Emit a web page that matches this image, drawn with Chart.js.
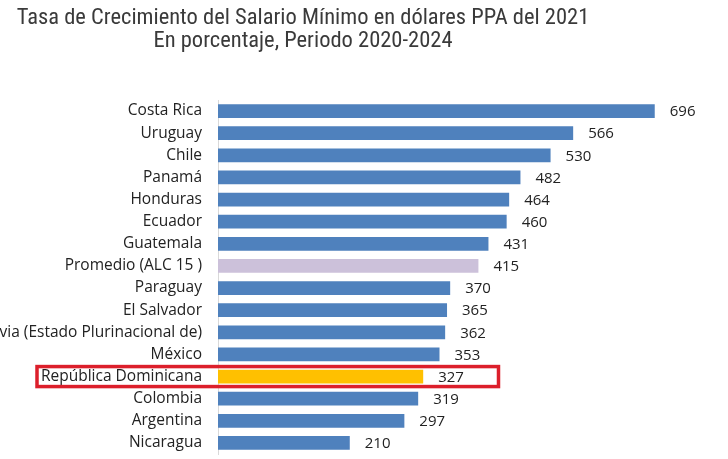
<!DOCTYPE html>
<html>
<head>
<meta charset="utf-8">
<script src="https://cdn.jsdelivr.net/npm/chart.js@4"></script>
<style>
  html, body { margin: 0; padding: 0; background: #fff; }
  #wrap { width: 728px; height: 459px; }
</style>
</head>
<body>
<div id="wrap"><canvas id="grafico"></canvas></div>
<script>
// Datos del gráfico
const paises = ['Costa Rica', 'Uruguay', 'Chile', 'Panamá', 'Honduras', 'Ecuador', 'Guatemala',
  'Promedio (ALC 15 )', 'Paraguay', 'El Salvador', 'Bolivia (Estado Plurinacional de)', 'México',
  'República Dominicana', 'Colombia', 'Argentina', 'Nicaragua'];
const crecimiento = [696, 566, 530, 482, 464, 460, 431, 415, 370, 365, 362, 353, 327, 319, 297, 210];
const tituloLineas = ['Tasa de Crecimiento del Salario Mínimo en dólares PPA del 2021',
  'En porcentaje, Periodo 2020-2024'];
const destacado = 'República Dominicana';

const colores = paises.map(p => {
  if (p === destacado) return '#ffc000';
  if (p.startsWith('Promedio')) return '#ccc1da';
  return '#4f81bd';
});

// titulo en dos lineas, algo corrido a la izquierda como en el original
const tituloPlugin = {
  id: 'tituloPlugin',
  afterDraw(chart) {
    const ctx = chart.ctx;
    ctx.save();
    ctx.fillStyle = '#3a3a3a';
    ctx.font = '22.5px "Liberation Sans Narrow", "Roboto Condensed", Roboto, sans-serif';
    ctx.textAlign = 'center';
    ctx.textBaseline = 'middle';
    ctx.fillText(tituloLineas[0], 303, 18);
    ctx.fillText(tituloLineas[1], 303, 41);
    ctx.restore();
  }
};

// etiquetas de valor al final de cada barra + recuadro rojo
const valoresPlugin = {
  id: 'valoresPlugin',
  afterDatasetsDraw(chart) {
    const ctx = chart.ctx;
    const meta = chart.getDatasetMeta(0);
    ctx.save();
    ctx.fillStyle = '#222';
    ctx.font = '15px "Open Sans", sans-serif';
    ctx.textAlign = 'left';
    ctx.textBaseline = 'middle';
    meta.data.forEach((bar, i) => {
      ctx.fillText(crecimiento[i], bar.x + 15, bar.y + 1);
    });
    const idx = paises.indexOf(destacado);
    const yc = chart.scales.y.getPixelForValue(idx);
    const xr = chart.scales.x.getPixelForValue(447);
    ctx.strokeStyle = '#dc1f2b';
    ctx.lineWidth = 3.5;
    ctx.strokeRect(37, yc - 10, xr - 37, 20);
    ctx.restore();
  }
};

new Chart(document.getElementById('grafico'), {
  type: 'bar',
  data: {
    labels: paises,
    datasets: [{
      data: crecimiento,
      backgroundColor: colores,
      borderWidth: 0,
      barPercentage: 0.62,
      categoryPercentage: 1
    }]
  },
  options: {
    indexAxis: 'y',
    responsive: true,
    maintainAspectRatio: false,
    animation: false,
    layout: { padding: { top: 100, bottom: 5, right: 8, left: 0 } },
    plugins: {
      legend: { display: false },
      title: { display: false },
      tooltip: { enabled: false }
    },
    scales: {
      x: {
        display: false,
        min: 0,
        max: 800
      },
      y: {
        afterFit(scale) {
          scale.width = 218;
          scale.paddingTop = 0;
          scale.paddingBottom = 0;
        },
        grid: { display: false },
        border: { display: true, color: '#d9d9d9', width: 1 },
        ticks: {
          padding: 8,
          color: '#222',
          font: { family: '"Open Sans", sans-serif', size: 15.5 }
        }
      }
    }
  },
  plugins: [tituloPlugin, valoresPlugin]
});
</script>
</body>
</html>
